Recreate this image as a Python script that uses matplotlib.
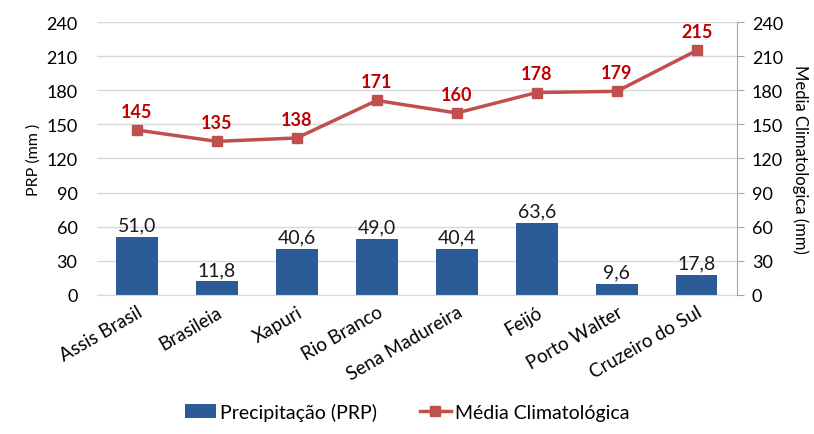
import numpy as np
from matplotlib import pyplot as plt

plt.rcParams['font.family'] = ['Lato', 'DejaVu Sans']

cidades = ['Assis Brasil', 'Brasileia', 'Xapuri', 'Rio Branco', 'Sena Madureira',
           'Feijó', 'Porto Walter', 'Cruzeiro do Sul']
prp = [51.0, 11.8, 40.6, 49.0, 40.4, 63.6, 9.6, 17.8]
media = [145, 135, 138, 171, 160, 178, 179, 215]

COR_BARRA = "#2C5C98"
COR_LINHA = "#C0504D"
COR_ROTULO = "#C00000"

fig, ax = plt.subplots(figsize=(8.14, 4.35), dpi=100)
fig.subplots_adjust(left=0.119, right=0.905, top=0.947, bottom=0.32)

x = np.arange(len(cidades))
ax.bar(x, prp, width=0.52, color=COR_BARRA, zorder=2, label='Precipitação (PRP)')
for xi, v in zip(x, prp):
    ax.text(xi, v + 3, ('%.1f' % v).replace('.', ','), ha='center', va='bottom',
            fontsize=14, color='#1a1a1a')

ax.set_xlim(-0.5, len(cidades) - 0.5)
ax.set_ylim(0, 240)
ax.set_yticks(range(0, 241, 30))
ax.tick_params(axis='y', length=0, labelsize=13, pad=14)
ax.tick_params(axis='x', length=0, labelsize=13.5, pad=6)
ax.set_xticks(x)
ax.set_xticklabels(cidades, rotation=30, ha='right', rotation_mode='anchor')
ax.grid(axis='y', color='#D9D9D9', linewidth=1, zorder=0)
ax.set_axisbelow(True)
for s in ['top', 'left', 'right']:
    ax.spines[s].set_visible(False)
ax.spines['bottom'].set_color('#D9D9D9')
ax.set_ylabel('PRP (mm )', fontsize=11.5)

ax2 = ax.twinx()
ax2.plot(x, media, color=COR_LINHA, linewidth=2.5, marker='s', markersize=7.5,
         zorder=3, label='Média Climatológica')
for xi, v in zip(x, media):
    ax2.text(xi, v + 9, str(v), ha='center', va='bottom', fontsize=13,
             fontweight='bold', color=COR_ROTULO)
ax2.set_ylim(0, 240)
ax2.set_yticks(range(0, 241, 30))
ax2.tick_params(axis='y', labelsize=13, direction='out', length=5, color='#A6A6A6', pad=6)
for s in ['top', 'left', 'bottom']:
    ax2.spines[s].set_visible(False)
ax2.spines['right'].set_color('#A6A6A6')
ax2.set_ylabel('Media Climatologica (mm)', fontsize=12, rotation=-90, labelpad=18)

h1, l1 = ax.get_legend_handles_labels()
h2, l2 = ax2.get_legend_handles_labels()
fig.legend(h1 + h2, l1 + l2, loc='lower center', bbox_to_anchor=(0.5, -0.01), ncol=2,
           frameon=False, fontsize=14, columnspacing=2.2, handlelength=1.6,
           handletextpad=0.2)

plt.savefig('out.png', dpi=100)
